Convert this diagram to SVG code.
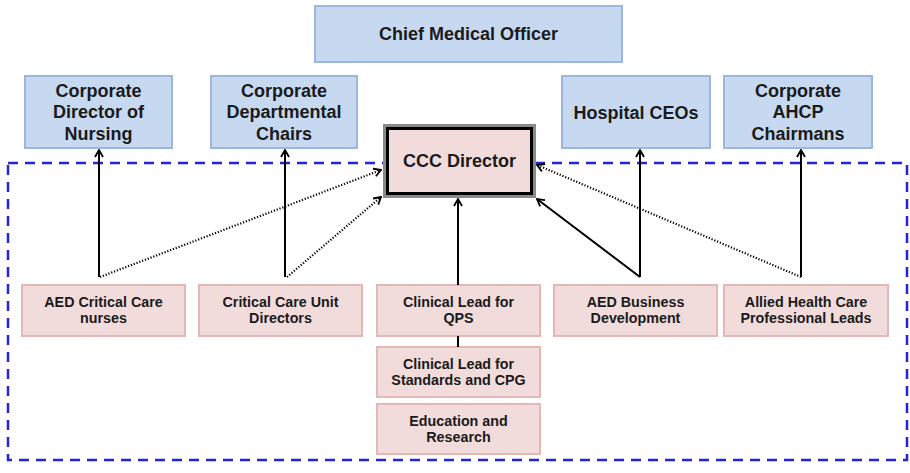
<svg xmlns="http://www.w3.org/2000/svg" width="910" height="473" viewBox="0 0 910 473">
<defs>
<style>
text{font-family:"Liberation Sans",Arial,sans-serif;font-weight:bold;fill:#1a1a1a;text-anchor:middle}
.blue{fill:#c6d9f1;stroke:#9bb8dc;stroke-width:2}
.pink{fill:#f2dcdb;stroke:#e3b8b7;stroke-width:2}
.t1{font-size:18px}
.t2{font-size:14.3px}
.solid{stroke:#000;stroke-width:2;fill:none}
.dot{stroke:#000;stroke-width:2.2;fill:none;stroke-dasharray:1.2 1.8}
</style>
<marker id="ar" viewBox="0 0 10 10" refX="9" refY="5" markerWidth="10" markerHeight="10" markerUnits="userSpaceOnUse" orient="auto">
<path d="M2,1 L9,5 L2,9" fill="none" stroke="#000" stroke-width="1.8"/>
</marker>
</defs>
<rect x="0" y="0" width="910" height="473" fill="#fff"/>
<rect id="boundary" x="8" y="163" width="899" height="297" fill="none" stroke="#2424d8" stroke-width="2.5" stroke-dasharray="10 7"/>
<g id="cmo"><rect class="blue" x="315" y="6" width="307" height="56"/><text class="t1" x="468.5" y="40">Chief Medical Officer</text></g>
<g id="cdn"><rect class="blue" x="25" y="76" width="147" height="72"/><text class="t1" x="98.5" y="97">Corporate</text><text class="t1" x="98.5" y="118">Director of</text><text class="t1" x="98.5" y="140">Nursing</text></g>
<g id="cdc"><rect class="blue" x="211" y="76" width="146" height="72"/><text class="t1" x="284" y="97">Corporate</text><text class="t1" x="284" y="118">Departmental</text><text class="t1" x="284" y="140">Chairs</text></g>
<g id="ceo"><rect class="blue" x="562" y="76" width="148" height="72"/><text class="t1" x="636" y="119">Hospital CEOs</text></g>
<g id="ahcp"><rect class="blue" x="724" y="76" width="148" height="72"/><text class="t1" x="798" y="97">Corporate</text><text class="t1" x="798" y="118">AHCP</text><text class="t1" x="798" y="140">Chairmans</text></g>
<g id="ccc"><rect x="384.5" y="125.5" width="150" height="71" fill="#f2dcdb" stroke="#8a8a8a" stroke-width="3"/><rect x="387.5" y="128.5" width="144" height="65" fill="#f2dcdb" stroke="#000" stroke-width="3"/><text x="459.5" y="167" style="font-size:18px">CCC Director</text></g>
<g id="n1"><rect class="pink" x="22" y="285" width="163" height="51"/><text class="t2" x="103.5" y="307">AED Critical Care</text><text class="t2" x="103.5" y="323">nurses</text></g>
<g id="n2"><rect class="pink" x="199" y="285" width="163" height="51"/><text class="t2" x="280.5" y="307">Critical Care Unit</text><text class="t2" x="280.5" y="323">Directors</text></g>
<g id="n3"><rect class="pink" x="377" y="285" width="163" height="51"/><text class="t2" x="458.5" y="307">Clinical Lead for</text><text class="t2" x="458.5" y="323">QPS</text></g>
<g id="n4"><rect class="pink" x="554" y="285" width="163" height="51"/><text class="t2" x="635.5" y="307">AED Business</text><text class="t2" x="635.5" y="323">Development</text></g>
<g id="n5"><rect class="pink" x="724" y="285" width="164" height="51"/><text class="t2" x="806" y="307">Allied Health Care</text><text class="t2" x="806" y="323">Professional Leads</text></g>
<g id="n6"><rect class="pink" x="377" y="347" width="163" height="50"/><text class="t2" x="458.5" y="369">Clinical Lead for</text><text class="t2" x="458.5" y="385">Standards and CPG</text></g>
<g id="n7"><rect class="pink" x="377" y="404" width="163" height="50"/><text class="t2" x="458.5" y="426">Education and</text><text class="t2" x="458.5" y="442">Research</text></g>
<g id="connectors">
<path class="solid" d="M99,277 L99,150" marker-end="url(#ar)"/>
<path class="dot" d="M100,277 L381,170" marker-end="url(#ar)"/>
<path class="solid" d="M285,277 L285,150" marker-end="url(#ar)"/>
<path class="dot" d="M287,277 L381,197" marker-end="url(#ar)"/>
<path class="solid" d="M458,285 L458,199" marker-end="url(#ar)"/>
<path class="solid" d="M458,336 L458,347"/>
<path class="solid" d="M640,277 L640,150" marker-end="url(#ar)"/>
<path class="solid" d="M640,277 L537,199" marker-end="url(#ar)"/>
<path class="solid" d="M801,277 L801,150" marker-end="url(#ar)"/>
<path class="dot" d="M801,277 L537,165" marker-end="url(#ar)"/>
</g>
</svg>
